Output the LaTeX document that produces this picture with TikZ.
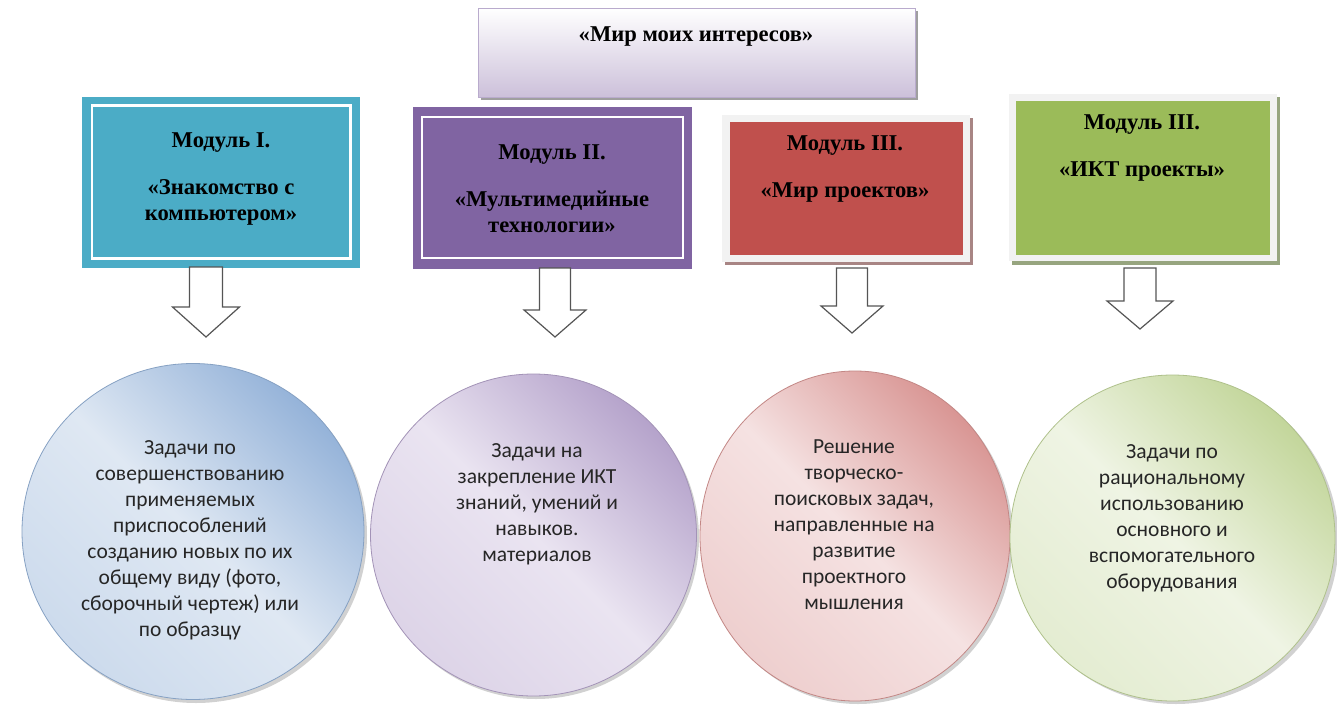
\documentclass[tikz,border=0pt]{standalone}
\usepackage{fontspec}
\setmainfont{Liberation Serif}
\newfontfamily\carlito{Carlito}
\usetikzlibrary{shapes.geometric}
\definecolor{mblue}{HTML}{4BACC6}
\definecolor{mpurple}{HTML}{8064A2}
\definecolor{mred}{HTML}{C0504D}
\definecolor{mgreen}{HTML}{9BBB59}
\definecolor{frameg}{HTML}{F2F2F2}
\definecolor{redshadow}{HTML}{A88584}
\definecolor{greenshadow}{HTML}{97A57F}
\definecolor{titlebot}{HTML}{CCC0DA}
\definecolor{titleline}{HTML}{B9ABCD}
\definecolor{arrowline}{HTML}{555555}
\definecolor{txt}{HTML}{262626}
\definecolor{bdark}{HTML}{95B3D9}
\definecolor{blight}{HTML}{DFE8F3}
\definecolor{pdark}{HTML}{B5A3CB}
\definecolor{plight}{HTML}{EAE4F1}
\definecolor{rdark}{HTML}{D99694}
\definecolor{rlight}{HTML}{F5E2E2}
\definecolor{gdark}{HTML}{C3D69B}
\definecolor{glight}{HTML}{EFF4E4}
\newcommand\blockarr[6]{%
  \draw[barrow] (#1-#5,#2) -- (#1+#5,#2) -- (#1+#5,#3) -- (#1+#6,#3) -- (#1,#4) -- (#1-#6,#3) -- (#1-#5,#3) -- cycle;}
\begin{document}
\begin{tikzpicture}[x=1pt,y=-1pt,
  box/.style={rectangle, inner sep=0pt, outer sep=0pt},
  boxtext/.style={align=center, inner sep=0pt, font=\bfseries\fontsize{22.6}{25.5}\selectfont, text=black},
  circtext/.style={align=center, inner sep=0pt, font=\carlito\fontsize{21.5}{26}\selectfont, text=txt},
  innerframe/.style={draw=white, line width=2.8pt},
  barrow/.style={draw=arrowline, fill=white, line width=1.2pt, line join=miter},
  bubble/.style={ellipse, inner sep=0pt, line width=0.8pt},
  bshadow/.style={ellipse, inner sep=0pt, fill=black, opacity=0.18}
]
\useasboundingbox (0,0) rectangle (1337,722);
\fill[white] (0,0) rectangle (1337,722);

% title box
\fill[gray!75] (481,11) rectangle (918,100);
\node[box, minimum width=437pt, minimum height=89pt, top color=white, bottom color=titlebot, draw=titleline, line width=0.8pt] (title) at (696.5,52.5) {};
\node[boxtext, anchor=base] (titletext) at (696,42) {«Мир моих интересов»};

% module I
\node[box, minimum width=278pt, minimum height=171pt, fill=mblue] (m1) at (221,182.5) {};
\draw[innerframe] (92,105.5) rectangle (350.5,258.5);
\node[boxtext, anchor=base] (t1) at (221,220) {Модуль I.\\[21.5pt]«Знакомство с\\компьютером»};

% module II
\node[box, minimum width=279pt, minimum height=162pt, fill=mpurple] (m2) at (552.5,188) {};
\draw[innerframe] (422,117) rectangle (683,258);
\node[boxtext, anchor=base] (t2) at (552,232) {Модуль II.\\[21.5pt]«Мультимедийные\\технологии»};

% module III (red)
\fill[redshadow] (725,118) rectangle (973,265);
\node[box, minimum width=248pt, minimum height=147pt, fill=frameg] (m3f) at (846,188.5) {};
\node[box, minimum width=233pt, minimum height=133pt, fill=mred] (m3) at (846.5,188.5) {};
\node[boxtext, anchor=base] (t3) at (845,197) {Модуль III.\\[21.5pt]«Мир проектов»};

% module III (green)
\fill[greenshadow] (1012,97) rectangle (1280,264.5);
\node[box, minimum width=268pt, minimum height=167pt, fill=frameg] (m4f) at (1143,177.5) {};
\node[box, minimum width=254pt, minimum height=154pt, fill=mgreen] (m4) at (1143,178) {};
\node[boxtext, anchor=base] (t4) at (1142,176) {Модуль III.\\[21pt]«ИКТ проекты»};

% block arrows
\blockarr{206}{267}{307}{337}{16.5}{33.5}
\blockarr{555}{268}{310}{337}{15.5}{31}
\blockarr{852}{268}{306}{333}{15.5}{31}
\blockarr{1140}{268}{301}{329}{16}{33}

% circles
\node[bshadow, minimum width=342pt, minimum height=336pt] at (196,535) {};
\node[bubble, minimum width=342pt, minimum height=336pt, top color=bdark, bottom color=blight!75!bdark, middle color=blight, shading angle=-45, draw=bdark!90!black] (c1) at (193,531.5) {};
\node[bshadow, minimum width=326pt, minimum height=322pt] at (536,538) {};
\node[bubble, minimum width=326pt, minimum height=322pt, top color=pdark, bottom color=plight!75!pdark, middle color=plight, shading angle=-45, draw=pdark!90!black] (c2) at (533.5,535) {};
\node[bshadow, minimum width=310pt, minimum height=330pt] at (858,539) {};
\node[bubble, minimum width=310pt, minimum height=330pt, top color=rdark, bottom color=rlight!75!rdark, middle color=rlight, shading angle=-45, draw=rdark!90!black] (c3) at (855,536) {};
\node[bshadow, minimum width=325pt, minimum height=326pt] at (1176,541) {};
\node[bubble, minimum width=325pt, minimum height=326pt, top color=gdark, bottom color=glight!75!gdark, middle color=glight, shading angle=-45, draw=gdark!90!black] (c4) at (1172.5,538) {};

\node[circtext, anchor=base] (ct1) at (190,636) {Задачи по\\совершенствованию\\применяемых\\приспособлений\\созданию новых по их\\общему виду (фото,\\сборочный чертеж) или\\по образцу};
\node[circtext, anchor=base] (ct2) at (537,561) {Задачи на\\закрепление ИКТ\\знаний, умений и\\навыков.\\материалов};
\node[circtext, anchor=base] (ct3) at (854,609) {Решение\\творческо-\\поисковых задач,\\направленные на\\развитие\\проектного\\мышления};
\node[circtext, anchor=base] (ct4) at (1172,588) {Задачи по\\рациональному\\использованию\\основного и\\вспомогательного\\оборудования};
\end{tikzpicture}
\end{document}
